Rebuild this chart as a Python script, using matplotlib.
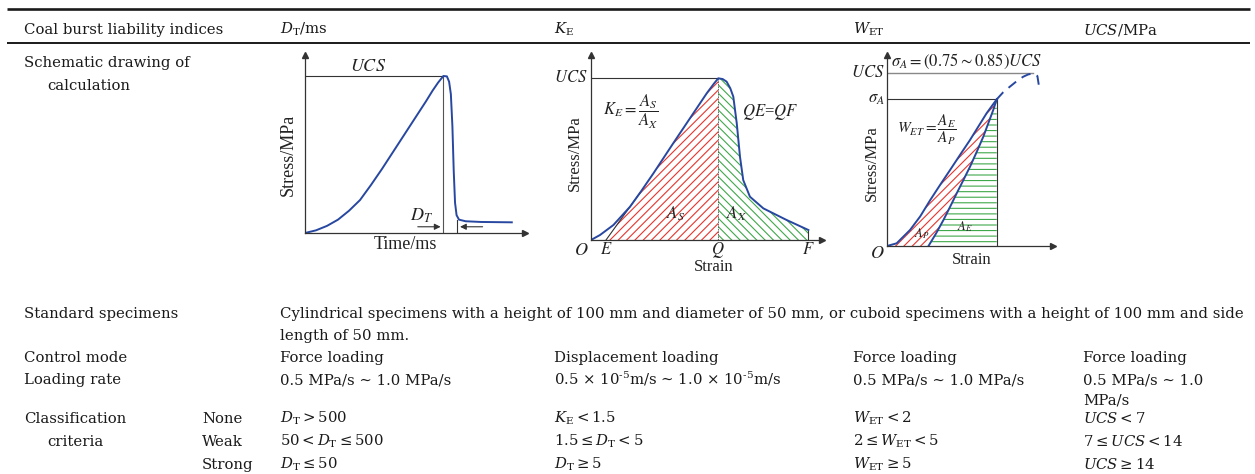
import numpy as np
import matplotlib.pyplot as plt

plt.rcParams['font.family'] = ['DejaVu Serif']
plt.rcParams['mathtext.fontset'] = 'dejavuserif'
plt.rcParams['hatch.linewidth'] = 0.8

W, H = 1255, 474
ink = '#1a1a1a'
blue = '#2747a0'
red = '#e8352f'
green = '#3fa84a'
axis_c = '#333333'

# ---- table text ----
row_label = ['Coal burst liability indices', 'Schematic drawing of', 'calculation',
             'Standard specimens', 'Control mode', 'Loading rate',
             'Classification', 'criteria']
columns = [r'$D_{\mathrm{T}}$/ms', r'$K_{\mathrm{E}}$', r'$W_{\mathrm{ET}}$', r'$UCS$/MPa']
specimens = ['Cylindrical specimens with a height of 100 mm and diameter of 50 mm, '
             'or cuboid specimens with a height of 100 mm and side',
             'length of 50 mm.']
control_mode = ['Force loading', 'Displacement loading', 'Force loading', 'Force loading']
loading_rate = ['0.5 MPa/s ∼ 1.0 MPa/s',
                r'0.5 × 10$^{\text{-}5}$m/s ∼ 1.0 × 10$^{\text{-}5}$m/s',
                '0.5 MPa/s ∼ 1.0 MPa/s',
                '0.5 MPa/s ∼ 1.0']
loading_rate_wrap = ['', '', '', 'MPa/s']
levels = ['None', 'Weak', 'Strong']
criteria = [
    [r'$D_{\mathrm{T}}>500$', r'$50<D_{\mathrm{T}}\leq500$', r'$D_{\mathrm{T}}\leq50$'],
    [r'$K_{\mathrm{E}}<1.5$', r'$1.5\leq D_{\mathrm{T}}<5$', r'$D_{\mathrm{T}}\geq5$'],
    [r'$W_{\mathrm{ET}}<2$', r'$2\leq W_{\mathrm{ET}}<5$', r'$W_{\mathrm{ET}}\geq5$'],
    [r'$UCS<7$', r'$7\leq UCS<14$', r'$UCS\geq14$'],
]

# ---- schematic curves (axis units 0-100) ----
# dynamic failure duration: stress vs time
dt_time = [0, 5, 10, 15, 20, 25, 30, 35, 40, 45, 50, 55, 58, 60.5, 62.9,
           64.5, 65.5, 66.3, 67.0, 67.6, 68.2, 68.9, 70, 73, 80, 94]
dt_stress = [0, 1.5, 4, 7.5, 12.5, 18.5, 27, 36, 45.5, 55, 64.5, 74, 80, 84.5, 88.2,
             88, 85, 78, 60, 35, 17, 10, 7.5, 6.6, 6.2, 6.0]
dt_peak, dt_ucs, dt_end = 62.9, 88.2, 69.2

# impact energy index: full stress-strain curve
ke_strain = [0, 3.9, 9.7, 16.9, 21.5, 27, 35.6, 44.3, 50.1, 53.2, 55.1,
             57.0, 58.7, 60.3, 61.6, 63.1, 64.5, 65.9, 68.8, 74.6, 84.7, 94.1]
ke_stress = [0, 2.7, 8.1, 18, 26, 36, 52.3, 68.5, 79.3, 84.5, 87.4,
             87.0, 85.6, 82.0, 77.5, 63.1, 45, 32.4, 23.4, 17.1, 10.8, 5.4]
ke_E, ke_Q, ke_F, ke_ucs = 6.5, 55.1, 94.1, 87.4
ke_touch = 4     # index where the line from E meets the curve
ke_peak = 10

# elastic energy index: loading / unloading loop
wet_load_strain = [0, 5.8, 13.9, 20, 26, 32, 38, 44, 50, 55, 60, 66.1]
wet_load_stress = [0, 1.4, 8.4, 15.5, 24, 32, 39.8, 47.7, 55.5, 62.5, 69.5, 76.8]
wet_unload_strain = [25, 29.5, 34, 38, 42, 46, 50, 54, 58, 61, 64, 66.1]
wet_unload_stress = [0, 6.5, 13.6, 20.5, 27.6, 34.5, 41.5, 49.2, 57.2, 64.2, 71.2, 76.8]
wet_post_strain = [66.1, 70, 74, 78, 82, 85, 88, 90.6, 91.6]
wet_post_stress = [76.8, 80.5, 83.4, 86.2, 88.6, 89.8, 90.4, 89, 83.4]
wet_ucs, wet_sigma = 90.4, 76.8

fig = plt.figure(figsize=(W / 100, H / 100), dpi=100)
base = fig.add_axes([0, 0, 1, 1])
base.set_xlim(0, W)
base.set_ylim(H, 0)
base.axis('off')

# rules
base.plot([7, 1250], [9, 9], color=ink, lw=1.9, solid_capstyle='butt')
base.plot([7, 1250], [43, 43], color=ink, lw=1.4, solid_capstyle='butt')


def cell(x, y, s, **kw):
    base.text(x, y, s, fontsize=10.7, color=ink, ha='left', va='baseline', **kw)


x_lab, x_lev = 24, 202
col_x = [280, 554, 853, 1083]

cell(x_lab, 34, row_label[0])
for x, c in zip(col_x, columns):
    cell(x, 34, c)
cell(x_lab, 67, row_label[1])
cell(47, 90, row_label[2])

cell(x_lab, 318, row_label[3])
cell(col_x[0], 318, specimens[0])
cell(col_x[0], 340, specimens[1])
cell(x_lab, 362, row_label[4])
cell(x_lab, 384, row_label[5])
for x, m, r, r2 in zip(col_x, control_mode, loading_rate, loading_rate_wrap):
    cell(x, 362, m)
    cell(x, 384, r)
    cell(x, 404, r2)

cell(x_lab, 423, row_label[6])
cell(47, 446, row_label[7])
for i, lev in enumerate(levels):
    y = 423 + i * 23
    cell(x_lev, y, lev)
    for x, crit in zip(col_x, criteria):
        cell(x, y, crit[i])


# ---- schematics ----
def schematic(left, top, right, bottom):
    ax = fig.add_axes([left / W, 1 - bottom / H, (right - left) / W, (bottom - top) / H])
    ax.set_xlim(0, 100)
    ax.set_ylim(0, 100)
    ax.patch.set_alpha(0)
    ax.spines[['top', 'right']].set_visible(False)
    ax.spines[['left', 'bottom']].set_color(axis_c)
    ax.spines[['left', 'bottom']].set_linewidth(0.9)
    ax.set_xticks([])
    ax.set_yticks([])
    ax.plot(1, 0, '>', color=axis_c, ms=5, transform=ax.transAxes, clip_on=False)
    ax.plot(0, 1, '^', color=axis_c, ms=5, transform=ax.transAxes, clip_on=False)
    return ax


def label(ax, x, y, s, size=12, **kw):
    kw.setdefault('ha', 'center')
    kw.setdefault('va', 'center')
    ax.text(x, y, s, fontsize=size, color='#222222', family='Liberation Serif',
            math_fontfamily='stix', clip_on=False, **kw)


# D_T
ax1 = schematic(305, 55, 525, 233)
ax1.plot([0, dt_peak], [dt_ucs, dt_ucs], color=axis_c, lw=0.8)
ax1.plot([dt_peak, dt_peak], [0, dt_ucs], color='#555555', lw=0.8)
ax1.plot([dt_end, dt_end], [0, dt_stress[-4]], color=axis_c, lw=0.8)
ax1.plot(dt_time, dt_stress, color=blue, lw=1.4)
arrow = dict(arrowstyle='-|>', color=axis_c, lw=0.8, mutation_scale=9)
ax1.annotate('', xy=(dt_peak, 3.5), xytext=(50, 3.5), arrowprops=arrow)
ax1.annotate('', xy=(dt_end, 3.5), xytext=(82, 3.5), arrowprops=arrow)
label(ax1, 53, 9.5, r'$D_T$', size=13)
label(ax1, 28.6, 93.5, r'$UCS$', size=13)
label(ax1, 45.5, -6.5, 'Time/ms', size=13)
label(ax1, -7.8, 44, 'Stress/MPa', size=13, rotation=90)

# K_E
ax2 = schematic(591, 55, 822, 240)
ke_x = np.array(ke_strain)
ke_y = np.array(ke_stress)
ax2.fill(np.r_[ke_E, ke_x[ke_touch:ke_peak + 1], ke_Q],
         np.r_[0, ke_y[ke_touch:ke_peak + 1], 0],
         facecolor='none', edgecolor=red, hatch='////', lw=0)
ax2.fill(np.r_[ke_x[ke_peak:], ke_F, ke_Q],
         np.r_[ke_y[ke_peak:], 0, 0],
         facecolor='none', edgecolor=green, hatch='\\\\\\\\', lw=0)
ax2.plot([0, ke_Q], [ke_ucs, ke_ucs], color=axis_c, lw=0.8)
ax2.plot([ke_Q, ke_Q], [0, ke_ucs], color='#555555', lw=0.6, ls=(0, (2, 1)))
ax2.plot([ke_E, ke_x[ke_touch]], [0, ke_y[ke_touch]], color=axis_c, lw=0.8)
ax2.plot([ke_F, ke_F], [0, ke_y[-1]], color=axis_c, lw=0.8)
ax2.plot(ke_x, ke_y, color=blue, lw=1.4)
label(ax2, -1.5, ke_ucs, r'$UCS$', ha='right')
label(ax2, -4, -5.5, r'$O$', size=13)
label(ax2, ke_E, -5.5, r'$E$')
label(ax2, ke_Q, -5.5, r'$Q$')
label(ax2, ke_F, -5.5, r'$F$')
label(ax2, 53, -14.5, 'Strain')
label(ax2, -7, 47, 'Stress/MPa', rotation=90)
label(ax2, 17, 69, r'$K_E=\dfrac{A_S}{A_X}$')
label(ax2, 77.5, 69, r'$QE$=$QF$')
label(ax2, 36.4, 14, r'$A_S$')
label(ax2, 62.8, 14, r'$A_X$')

# W_ET
ax3 = schematic(887, 55, 1053, 246)
lx, ly = np.array(wet_load_strain), np.array(wet_load_stress)
ux, uy = np.array(wet_unload_strain), np.array(wet_unload_stress)
ax3.fill(np.r_[lx, ux[::-1]], np.r_[ly, uy[::-1]],
         facecolor='none', edgecolor=red, hatch='////', lw=0)
ax3.fill(np.r_[ux, ux[-1]], np.r_[uy, 0],
         facecolor='none', edgecolor=green, hatch='---', lw=0)
ax3.plot([0, wet_post_strain[-3]], [wet_ucs, wet_ucs], color='#888888', lw=1.0)
ax3.plot([0, lx[-1]], [wet_sigma, wet_sigma], color=axis_c, lw=0.8)
ax3.plot([lx[-1], lx[-1]], [0, wet_sigma], color=axis_c, lw=0.8)
ax3.plot(lx, ly, color=blue, lw=1.4)
ax3.plot(ux, uy, color=blue, lw=1.4)
ax3.plot(wet_post_strain, wet_post_stress, color=blue, lw=1.4, ls=(0, (5, 3.5)))
label(ax3, -1.5, wet_ucs, r'$UCS$', ha='right')
label(ax3, -1.5, wet_sigma, r'$\sigma_A$', ha='right')
label(ax3, 2.5, 96.5, r'$\sigma_A=(0.75\sim0.85)UCS$', ha='left')
label(ax3, -6, -3.8, r'$O$', size=13)
label(ax3, 51, -7.5, 'Strain')
label(ax3, -9, 43.5, 'Stress/MPa', rotation=90)
label(ax3, 24, 61, r'$W_{ET}=\dfrac{A_E}{A_P}$', size=11)
label(ax3, 47, 10, r'$A_E$', size=9)
label(ax3, 21, 6.5, r'$A_P$', size=9)

fig.savefig('out.png', dpi=100)
